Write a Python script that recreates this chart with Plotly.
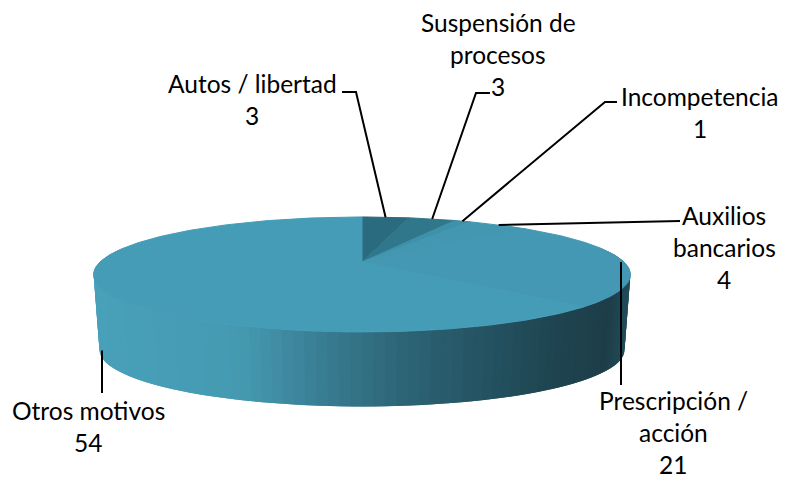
import math
import plotly.graph_objects as go

categories = ["Autos / libertad", "Suspensión de procesos", "Incompetencia",
              "Auxilios bancarios", "Prescripción / acción", "Otros motivos"]
values = [3, 3, 1, 4, 21, 54]
label_lines = [["Autos / libertad", "3"], ["Suspensión de", "procesos", "3"],
               ["Incompetencia", "1"], ["Auxilios", "bancarios", "4"],
               ["Prescripción /", "acción", "21"], ["Otros motivos", "54"]]
label_centers = [(252, 83), (498, 22), (700, 96), (724, 215), (673, 400), (88, 410)]
leader_elbows = [[(342, 92), (356, 92)], [(490, 93), (476, 93)], [(617, 102), (605, 102)],
                 [(680, 221)], [(621, 385)], [(102, 393)]]
top_colors = ["#2b6b80", "#30778c", "#3f90a9", "#4397b1", "#4498b3", "#459cb6"]
side_stops = [(93, (72, 160, 185)), (240, (69, 154, 178)), (300, (60, 132, 155)),
              (390, (46, 104, 122)), (470, (38, 86, 101)), (550, (31, 69, 82)),
              (610, (29, 62, 73)), (630, (34, 76, 90))]

CX, CY, B, A, K, DEPTH, SHRINK = 362, 262, 262, 54.8, 0.217, 76, 0.978
LINE_SPACING = 32
# the page body keeps an 8 px margin, so the plot starts at (8, 8)
PAGE_W, PAGE_H, BODY = 786, 479, 8


def project(theta_deg, bottom=False):
    t = math.radians(theta_deg)
    d = 1 + K * math.cos(t)
    x, y = B * math.sin(t) / d, -A * math.cos(t) / d
    if bottom:
        return CX + x * SHRINK, CY + y * SHRINK + DEPTH
    return CX + x, CY + y


def side_color(x):
    for (x0, c0), (x1, c1) in zip(side_stops, side_stops[1:]):
        if x <= x1:
            f = max(0, (x - x0) / (x1 - x0))
            return "rgb(%d,%d,%d)" % tuple(round(a + (b - a) * f) for a, b in zip(c0, c1))
    return "rgb(%d,%d,%d)" % side_stops[-1][1]


fig = go.Figure()


def poly(xs, ys, color, width=1):
    fig.add_trace(go.Scatter(x=xs, y=ys, mode="lines", fill="toself", fillcolor=color,
                             line=dict(color=color, width=width), hoverinfo="skip", showlegend=False))


# side wall: bands painted from both ends towards the front so each one overlaps the next
STEP = 2.0
lo, hi = 76.0, 284.0
t = lo
while t < hi:
    t2 = min(t + STEP, hi)
    t3 = min(t2 + STEP, hi)
    p = [project(t), project(t3), project(t3, True), project(t, True)]
    xm = (project(t)[0] + project(t2)[0]) / 2
    poly([q[0] for q in p], [q[1] for q in p], side_color(xm), width=0)
    t = t2

# top face
total = sum(values)
angle = 0.0
mids = []
for v, c in zip(values, top_colors):
    sweep = 360.0 * v / total
    n = max(2, int(sweep))
    pts = [project(angle + sweep * i / n) for i in range(n + 1)]
    poly([CX] + [q[0] for q in pts] + [CX], [CY] + [q[1] for q in pts] + [CY], c)
    mids.append(angle + sweep / 2)
    angle += sweep

# leaders
for i, (mid, elbows) in enumerate(zip(mids, leader_elbows)):
    ax, ay = project(mid)
    if i == 4:
        ax = elbows[0][0]
    if i == 5:
        ax, ay = elbows[0][0], ay + 65
    xs = [e[0] for e in elbows] + [ax]
    ys = [e[1] for e in elbows] + [ay]
    fig.add_trace(go.Scatter(x=xs, y=ys, mode="lines", line=dict(color="black", width=2),
                             hoverinfo="skip", showlegend=False))

annotations = []
for lines, (lx, ly) in zip(label_lines, label_centers):
    for j, s in enumerate(lines):
        annotations.append(dict(x=lx, y=ly + j * LINE_SPACING, text=s, showarrow=False,
                                xanchor="center", yanchor="middle",
                                font=dict(family="Lato", size=24.5, color="black")))

fig.update_layout(width=PAGE_W - BODY, height=PAGE_H - BODY, margin=dict(l=0, r=0, t=0, b=0),
                  paper_bgcolor="white", plot_bgcolor="white", annotations=annotations,
                  xaxis=dict(range=[BODY, PAGE_W], visible=False, fixedrange=True),
                  yaxis=dict(range=[PAGE_H, BODY], visible=False, fixedrange=True))
fig.write_html("out.html")
